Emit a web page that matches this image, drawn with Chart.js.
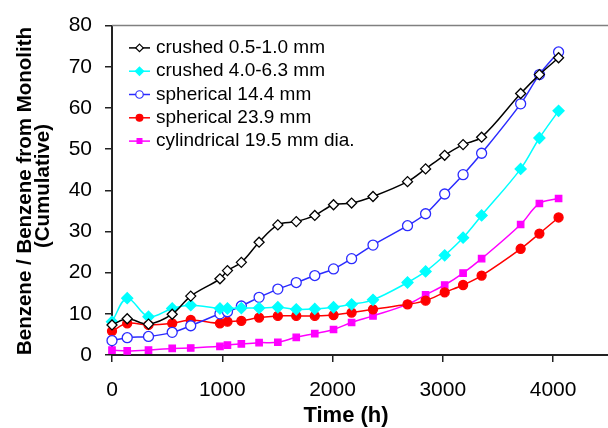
<!DOCTYPE html>
<html>
<head>
<meta charset="utf-8">
<script src="https://cdn.jsdelivr.net/npm/chart.js@4"></script>
<style>
    html, body { margin: 0; padding: 0; background: #fff; overflow: hidden; }
    canvas { display: block; }
</style>
</head>
<body>
<canvas id="chart" width="615" height="428"></canvas>
<script>
const hours = [0, 138, 331, 546, 714, 979, 1047, 1173, 1334, 1504, 1671, 1839, 2009, 2173, 2367, 2680, 2844, 3017, 3184, 3352, 3706, 3876, 4050];

const crushedSmall = [7.3, 8.8, 7.5, 9.9, 14.3, 18.5, 20.5, 22.5, 27.4, 31.6, 32.4, 33.9, 36.5, 36.9, 38.5, 42.1, 45.2, 48.5, 51.1, 52.9, 63.5, 68.1, 72.2];
const crushedLarge = [8.1, 13.8, 9.3, 11.3, 12.1, 11.3, 11.3, 11.4, 11.4, 11.6, 11.1, 11.2, 11.6, 12.3, 13.4, 17.6, 20.3, 24.2, 28.5, 33.9, 45.2, 52.7, 59.3];
const spherical144 = [3.5, 4.2, 4.5, 5.5, 7.1, 10.0, 10.5, 11.9, 14.0, 16.0, 17.6, 19.3, 20.9, 23.4, 26.7, 31.4, 34.3, 39.1, 43.8, 49.0, 61.0, 68.1, 73.6];
const spherical239 = [5.8, 7.7, 7.3, 7.7, 8.5, 7.7, 8.1, 8.3, 9.1, 9.5, 9.5, 9.5, 9.7, 10.3, 11.1, 12.3, 13.2, 15.2, 17.0, 19.3, 25.8, 29.5, 33.4];
const cylindrical = [1.2, 1.0, 1.2, 1.6, 1.7, 2.1, 2.4, 2.7, 3.0, 3.1, 4.3, 5.2, 6.2, 7.9, 9.5, 12.3, 14.6, 17.0, 19.9, 23.4, 31.7, 36.8, 38.0];

const seriesLabels = ["crushed 0.5-1.0 mm", "crushed 4.0-6.3 mm", "spherical 14.4 mm", "spherical 23.9 mm", "cylindrical 19.5 mm dia."];
const xTicks = [0, 1000, 2000, 3000, 4000];
const yTitleLines = ["Benzene / Benzene from Monolith", "(Cumulative)"];
const xTitle = "Time (h)";

const FONT = "'Liberation Sans', Arial, sans-serif";

function toPoints(values) {
    return values.map((v, i) => ({x: hours[i], y: v}));
}

function makeSet(label, values, color, style, radius, fill) {
    return {
        label: label,
        data: toPoints(values),
        borderColor: color,
        borderWidth: 1.5,
        pointStyle: style,
        pointRadius: radius,
        pointBackgroundColor: fill,
        pointBorderColor: color,
        pointBorderWidth: 1.3,
        tension: 0.35,
        clip: false,
        legendRadius: radius * 0.75
    };
}

function drawMarker(ctx, style, x, y, r, fill, stroke) {
    ctx.beginPath();
    if (style === "circle") {
        ctx.arc(x, y, r, 0, Math.PI * 2);
    } else if (style === "rectRot") {
        ctx.moveTo(x, y - r);
        ctx.lineTo(x + r, y);
        ctx.lineTo(x, y + r);
        ctx.lineTo(x - r, y);
        ctx.closePath();
    } else {
        const s = r * Math.SQRT1_2;
        ctx.rect(x - s, y - s, s * 2, s * 2);
    }
    ctx.fillStyle = fill;
    ctx.fill();
    ctx.lineWidth = 1.2;
    ctx.strokeStyle = stroke;
    ctx.stroke();
}

// legend inside the plot, top border line and axis titles
const extras = {
    id: "extras",
    afterDraw(chart) {
        const ctx = chart.ctx;
        const area = chart.chartArea;
        ctx.save();

        ctx.strokeStyle = "#808080";
        ctx.lineWidth = 1.5;
        ctx.beginPath();
        ctx.moveTo(area.left, area.top);
        ctx.lineTo(area.right, area.top);
        ctx.stroke();

        ctx.font = "19px " + FONT;
        ctx.textBaseline = "middle";
        ctx.textAlign = "left";
        chart.data.datasets.forEach((ds, i) => {
            const y = area.top + 22.3 + i * 23.3;
            const x0 = area.left + 17;
            ctx.strokeStyle = ds.borderColor;
            ctx.lineWidth = 1.5;
            ctx.beginPath();
            ctx.moveTo(x0, y);
            ctx.lineTo(x0 + 21, y);
            ctx.stroke();
            drawMarker(ctx, ds.pointStyle, x0 + 10.5, y, ds.legendRadius, ds.pointBackgroundColor, ds.borderColor);
            ctx.fillStyle = "#000";
            ctx.fillText(ds.label, x0 + 27, y);
        });

        ctx.fillStyle = "#000";
        ctx.textAlign = "center";
        ctx.font = "bold 22px " + FONT;
        ctx.fillText(xTitle, 346, 416);

        ctx.font = "bold 20.5px " + FONT;
        ctx.save();
        ctx.translate(25.7, 191);
        ctx.rotate(-Math.PI / 2);
        ctx.fillText(yTitleLines[0], 0, 0);
        ctx.restore();
        ctx.save();
        ctx.translate(43.5, 186);
        ctx.rotate(-Math.PI / 2);
        ctx.fillText(yTitleLines[1], 0, 0);
        ctx.restore();

        ctx.restore();
    }
};

const ctx = document.getElementById("chart").getContext("2d");

new Chart(ctx, {
    type: "line",
    data: {
        datasets: [
            makeSet(seriesLabels[0], crushedSmall, "#000000", "rectRot", 5, "#ffffff"),
            makeSet(seriesLabels[1], crushedLarge, "#00ffff", "rectRot", 5.5, "#00ffff"),
            makeSet(seriesLabels[2], spherical144, "#2b2bff", "circle", 5, "#ffffff"),
            makeSet(seriesLabels[3], spherical239, "#ff0000", "circle", 4.5, "#ff0000"),
            makeSet(seriesLabels[4], cylindrical, "#ff00ff", "rect", 4.5, "#ff00ff")
        ]
    },
    options: {
        responsive: false,
        animation: false,
        layout: {
            padding: {top: 17, right: 0, bottom: 0, left: 0}
        },
        plugins: {
            legend: {display: false},
            tooltip: {enabled: false}
        },
        scales: {
            x: {
                type: "linear",
                min: 0,
                max: 4500,
                bounds: "data",
                afterFit(scale) { scale.height = 73; },
                afterBuildTicks(scale) {
                    scale.ticks = xTicks.map(v => ({value: v}));
                },
                grid: {
                    drawOnChartArea: false,
                    drawTicks: true,
                    tickLength: 7,
                    color: "#222",
                    lineWidth: 1.5
                },
                border: {color: "#222", width: 2},
                ticks: {
                    padding: 16,
                    color: "#000",
                    font: {family: FONT, size: 21},
                    maxRotation: 0,
                    autoSkip: false,
                    callback: v => String(v)
                }
            },
            y: {
                min: 0,
                max: 80,
                afterFit(scale) { scale.width = 112; },
                grid: {
                    drawOnChartArea: false,
                    drawTicks: true,
                    tickLength: 7,
                    color: "#222",
                    lineWidth: 1.5
                },
                border: {color: "#222", width: 2},
                ticks: {
                    stepSize: 10,
                    padding: 13,
                    color: "#000",
                    font: {family: FONT, size: 21}
                }
            }
        }
    },
    plugins: [extras]
});
</script>
</body>
</html>
